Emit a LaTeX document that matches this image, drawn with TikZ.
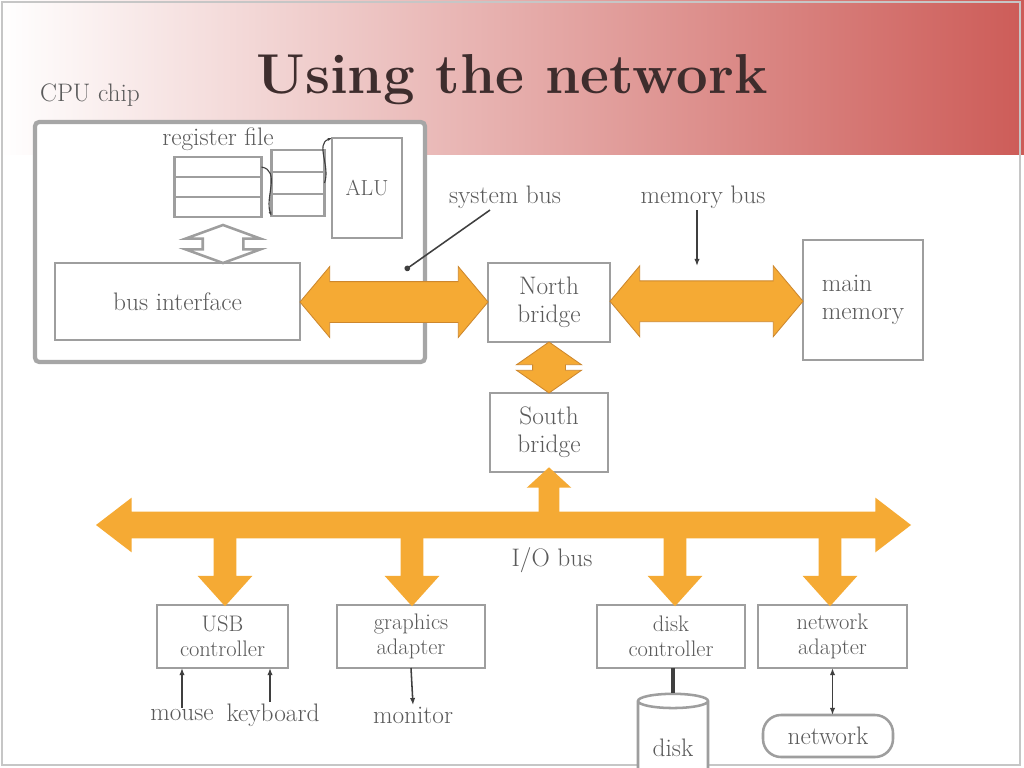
\documentclass[tikz,border=0pt]{standalone}
\usetikzlibrary{positioning,calc,arrows.meta,shapes.arrows,shapes.geometric}
\definecolor{headred}{RGB}{205,92,88}
\definecolor{busorange}{RGB}{245,170,52}
\definecolor{busedge}{RGB}{205,135,45}
\definecolor{boxgray}{RGB}{158,158,158}
\definecolor{txtgray}{RGB}{90,90,90}
\definecolor{titlebrown}{RGB}{62,45,45}
\newcommand{\pix}[1]{#1*0.025cm}
\tikzset{
    unit/.style={draw=boxgray, line width=1.8pt, fill=white, text=txtgray, align=center,
        inner sep=0pt, outer sep=0pt, font=\fontsize{16}{18}\selectfont},
    lbl/.style={text=txtgray, inner sep=1pt, font=\fontsize{18}{20}\selectfont},
    bus/.style={fill=busorange, draw=busedge, line width=0.6pt, inner xsep=0pt, outer sep=0pt},
    iobus/.style={fill=busorange, draw=none, inner xsep=0pt, outer sep=0pt},
    ptr/.style={draw=txtgray!70!black, line width=1.1pt},
}
\begin{document}
\begin{tikzpicture}[x=0.025cm,y=-0.025cm]
    \clip (0,0) rectangle (1024,768);
    \useasboundingbox (0,0) rectangle (1024,768);
    \fill[white] (0,0) rectangle (1024,768);
    \fill[left color=white, right color=headred] (0,0) rectangle (1024,155);
    \draw[gray!45, line width=1.3pt] (2,2) rectangle (1020,765);
    \node[text=titlebrown, font=\fontsize{40}{48}\selectfont\bfseries] (title) at (512,80) {Using the network};

    \node[lbl] (cpulbl) at (90,95) {CPU chip};
    \node[unit, draw=gray!70, line width=3pt, rounded corners=3pt,
        minimum width=\pix{390}, minimum height=\pix{240}] (cpu) at (230,242) {};

    \node[unit, minimum width=\pix{87}, minimum height=\pix{20}] (reg1) at (218,167) {};
    \node[unit, minimum width=\pix{87}, minimum height=\pix{20}, below=0pt of reg1] (reg2) {};
    \node[unit, minimum width=\pix{87}, minimum height=\pix{20}, below=0pt of reg2] (reg3) {};
    \node[lbl, above=\pix{5} of reg1] (rflbl) {register file};
    \node[unit, minimum width=\pix{53}, minimum height=\pix{22}] (op1) at (298,161) {};
    \node[unit, minimum width=\pix{53}, minimum height=\pix{22}, below=0pt of op1] (op2) {};
    \node[unit, minimum width=\pix{53}, minimum height=\pix{22}, below=0pt of op2] (op3) {};
    \node[unit, font=\fontsize{15.5}{17}\selectfont, minimum width=\pix{70}, minimum height=\pix{100}] (alu) at (367,188) {ALU};
    \draw[ptr, line width=0.8pt, -{Latex[length=3pt]}] (reg1.east) to[out=-10, in=110] (op3.south west);
    \draw[ptr, line width=0.8pt, -{Latex[length=3pt]}] (op2.east) to[out=70, in=-160] (alu.north west);

    \node[unit, font=\fontsize{18}{20}\selectfont, minimum width=\pix{245}, minimum height=\pix{77}] (bi) at (177.5,301.5) {bus interface};
    \node[double arrow, rotate=90, fill=white, draw=boxgray, line width=1.8pt, inner xsep=0pt, inner ysep=\pix{19},
        minimum height=\pix{38}, minimum width=\pix{73}, double arrow head extend=\pix{17},
        double arrow tip angle=140] (rfarr) at (223,244) {};

    \node[unit, font=\fontsize{18}{20}\selectfont, minimum width=\pix{122}, minimum height=\pix{79}] (nb) at (549,302.5) {North\\bridge};
    \node[unit, font=\fontsize{18}{20}\selectfont, align=left, minimum width=\pix{120}, minimum height=\pix{120}] (mm) at (863,300) {main\\memory};
    \node[unit, font=\fontsize{18}{20}\selectfont, minimum width=\pix{118}, minimum height=\pix{79}] (sb) at (549,432.5) {South\\bridge};

    \node[bus, double arrow, inner ysep=\pix{20}, minimum height=\pix{188}, minimum width=\pix{70},
        double arrow head extend=\pix{15}, double arrow tip angle=100] (sysarr) at ($(bi.east)!0.5!(nb.west)$) {};
    \node[bus, double arrow, inner ysep=\pix{20}, minimum height=\pix{193}, minimum width=\pix{70},
        double arrow head extend=\pix{15}, double arrow tip angle=100] (memarr) at ($(nb.east)!0.5!(mm.west)$) {};
    \node[bus, double arrow, rotate=90, inner ysep=\pix{16}, minimum height=\pix{51}, minimum width=\pix{64},
        double arrow head extend=\pix{16}, double arrow tip angle=110] (nsarr) at ($(nb.south)!0.5!(sb.north)$) {};

    \node[lbl] (sysbus) at (505,197) {system bus};
    \coordinate (sysend) at (405,270);
    \draw[ptr, -{Circle[length=4pt]}] ([xshift=-\pix{15}]sysbus.south) -- (sysend);
    \node[lbl] (membus) at (703,197) {memory bus};
    \coordinate (memend) at (697,266);
    \draw[ptr, -{Latex[length=5pt]}] (membus.south -| memend) -- (memend);

    \node[unit, minimum width=\pix{131}, minimum height=\pix{63}] (usb) at (222.5,636.5) {USB\\controller};
    \node[unit, minimum width=\pix{148}, minimum height=\pix{63}] (gfx) at (411,636.5) {graphics\\adapter};
    \node[unit, minimum width=\pix{148}, minimum height=\pix{63}] (dskc) at (671,636.5) {disk\\controller};
    \node[unit, minimum width=\pix{149}, minimum height=\pix{63}] (neta) at (832.5,636.5) {network\\adapter};

    \foreach \x in {225,412,675,830}
        \node[iobus, single arrow, rotate=-90, inner ysep=\pix{11}, minimum height=\pix{80}, minimum width=\pix{54},
            single arrow head extend=\pix{16}, single arrow tip angle=84] at (\x,560) {};
    \node[iobus, single arrow, rotate=90, inner ysep=\pix{10}, minimum height=\pix{53}, minimum width=\pix{44},
        single arrow head extend=\pix{12}, single arrow tip angle=95] (uparr) at (549,498.5) {};
    \node[iobus, double arrow, inner ysep=\pix{13}, minimum height=\pix{815}, minimum width=\pix{54},
        double arrow head extend=\pix{14}, double arrow tip angle=75] (iobus) at (503.5,525) {};
    \node[lbl] (iolbl) at (552,560) {I/O bus};

    \node[lbl] (mouse) at (182,715) {mouse};
    \node[lbl] (kbd) at (273,715) {keyboard};
    \node[lbl] (mon) at (413,715) {monitor};
    \draw[ptr, -{Latex[length=5pt]}] (mouse.north) -- (mouse.north |- usb.south);
    \draw[ptr, -{Latex[length=5pt]}] ([xshift=-\pix{3}]kbd.north) -- ([xshift=-\pix{3}]kbd.north |- usb.south);
    \draw[ptr, -{Latex[length=5pt]}] (gfx.south) -- (mon.north);

    \node[cylinder, shape border rotate=90, draw=boxgray, line width=1.8pt, fill=white, text=txtgray,
        minimum width=\pix{70}, minimum height=\pix{100}, aspect=0.35, inner sep=0pt,
        font=\fontsize{18}{20}\selectfont] (disk) at (673,748) {disk};
    \draw[draw=txtgray!70!black, line width=3.5pt] (dskc.south -| disk.north) -- (disk.north);

    \node[unit, font=\fontsize{18}{20}\selectfont, rounded corners=\pix{18}, minimum width=\pix{130}, minimum height=\pix{42}] (net) at (828,736) {network};
    \draw[ptr, {Latex[length=5pt]}-{Latex[length=5pt]}] (net.north -| neta.south) -- (neta.south);
\end{tikzpicture}
\end{document}
